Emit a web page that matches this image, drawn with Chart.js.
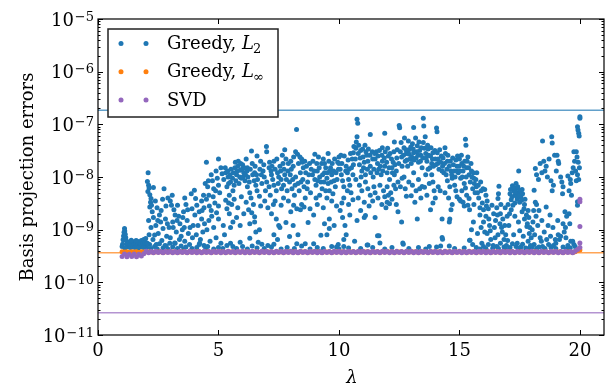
<!DOCTYPE html>
<html>
<head>
<meta charset="utf-8">
<script src="https://cdn.jsdelivr.net/npm/chart.js@4/dist/chart.umd.min.js"></script>
<style>
  html, body { margin: 0; padding: 0; background: #fff; }
  canvas { display: block; }
</style>
</head>
<body>
<canvas id="chart" width="616" height="388"></canvas>
<script>
// Tolerance lines (horizontal)
const l2Tolerance = 1.85e-7;
const linfTolerance = 3.63e-10;
const svdTolerance = 2.64e-11;

// Axis ticks
const xTicks = [0, 5, 10, 15, 20];
const yDecades = [-11, -10, -9, -8, -7, -6, -5];

// Greedy L2 errors, [lambda, error]
const greedyL2 = [
    // 1 - 2
    [1.02,5.3e-10],[1.04,6.4e-10],[1.06,7.6e-10],[1.08,8.9e-10],[1.1,1.05e-9],[1.11,9.4e-10],[1.13,8.2e-10],[1.15,7.1e-10],
    [1.17,6.3e-10],[1.2,5.6e-10],[1.22,4.9e-10],[1.25,5.4e-10],[1.28,4.7e-10],[1.3,5.8e-10],[1.33,5.1e-10],[1.36,4.6e-10],
    [1.4,5.5e-10],[1.43,4.8e-10],[1.46,5.9e-10],[1.5,5.2e-10],[1.53,4.6e-10],[1.56,5.6e-10],[1.6,4.9e-10],[1.63,6e-10],
    [1.66,5.3e-10],[1.7,4.7e-10],[1.73,5.7e-10],[1.76,5.1e-10],[1.8,6.2e-10],[1.83,4.8e-10],[1.86,5.5e-10],[1.9,6.5e-10],
    [1.93,5e-10],[1.96,5.8e-10],[1.98,6.8e-10],[1.0,4.8e-10],[1.12,4.5e-10],[1.38,6.3e-10],[1.58,6.2e-10],[1.68,4.5e-10],[1.88,4.6e-10],
    // 2 - 3
    [2.08,1.2e-8],[2.05,8.2e-9],[2.1,7e-9],[2.12,6.2e-9],[2.07,5.3e-9],[2.15,4.6e-9],[2.2,3.9e-9],[2.18,3.3e-9],[2.3,6.3e-9],
    [2.74,6e-9],[2.15,2.7e-9],[2.25,2.2e-9],[2.3,1.7e-9],[2.1,1.5e-9],[2.2,1.1e-9],[2.12,8e-10],[2.28,6.5e-10],[2.05,5.5e-10],
    [2.45,2.6e-9],[2.55,1.9e-9],[2.6,1.4e-9],[2.7,1.05e-9],[2.5,8.5e-10],[2.65,6.2e-10],[2.35,7.9e-10],[2.4,1.2e-9],
    [2.8,1.6e-9],[2.85,7.5e-10],[2.42,5.2e-10],[2.78,5e-10],
    // 3 - 4
    [2.9,4e-9],[3.0,3.5e-9],[3.05,2.9e-9],[3.15,2.4e-9],[3.2,1.9e-9],[3.1,1.4e-9],[2.95,1.1e-9],[3.25,9e-10],[3.0,7e-10],
    [3.2,5.5e-10],[3.35,1.8e-9],[3.4,1.3e-9],[3.5,1e-9],[3.45,7.5e-10],[3.6,6e-10],[3.7,1.5e-9],[3.75,8.5e-10],[3.8,5.2e-10],
    [3.87,4.8e-9],[3.55,2.2e-9],[3.65,3e-9],[3.3,2.9e-9],[3.9,2.5e-9],[3.95,1.2e-9],[3.6,4e-9],
    // 4 - 5
    [4.0,5.6e-9],[4.05,3.9e-9],[4.1,2.9e-9],[4.2,2.2e-9],[4.3,1.6e-9],[4.15,1.2e-9],[4.35,9e-10],[4.25,6.5e-10],[4.4,5e-10],
    [4.45,7.5e-9],[4.55,6.5e-9],[4.6,4.5e-9],[4.5,3.8e-9],[4.5,1.9e-8],[4.7,1.1e-8],[4.75,8.5e-9],[4.8,6e-9],[4.9,1.3e-8],
    [4.95,9.5e-9],[4.85,3.2e-9],[4.7,2.3e-9],[4.6,1.5e-9],[4.8,1.1e-9],[4.9,7e-10],[4.65,6e-10],[4.3,3.5e-9],[4.4,2.6e-9],
    // 5 - 6
    [5.0,2.2e-8],[5.0,7e-9],[5.05,5e-9],[5.0,2.8e-9],[5.1,1.5e-8],[5.15,1.15e-8],[5.0,1.6e-9],[5.1,5.5e-10],[5.2,1.2e-9],
    [5.3,1.2e-8],[5.4,1e-8],[5.5,8e-9],[5.35,6.5e-9],[5.6,5.5e-9],[5.45,4.5e-9],[5.3,3.6e-9],[5.55,3e-9],[5.35,2.5e-9],
    [5.45,2e-9],[5.6,1.4e-9],[5.5,1.1e-9],[5.5,5.5e-10],[5.6,4.8e-10],[5.7,1.9e-8],[5.8,1.6e-8],[5.9,1.35e-8],[6.0,1.7e-8],
    [6.05,1.2e-8],[5.95,9.5e-9],[5.75,1.1e-8],[5.85,7.5e-9],[5.9,1.2e-9],[5.9,5.8e-10],[5.25,8e-10],[5.8,2.6e-9],[5.65,7e-9],
    // 6 - 7
    [6.1,8.5e-9],[6.37,3.1e-8],[6.2,6.5e-9],[6.3,5e-9],[6.35,4e-9],[6.45,3e-9],[6.25,2.4e-9],[6.55,7e-9],[6.6,5.5e-9],
    [6.7,4.3e-9],[6.3,1.3e-9],[6.3,6.9e-10],[6.65,5.8e-10],[6.4,4.9e-10],[6.5,1.75e-9],[6.7,1e-9],[6.5,1.4e-9],[6.55,9e-10],
    [6.85,1.3e-8],[6.9,1e-8],[6.99,3.8e-8],[7.0,3e-8],[6.2,1.5e-8],[6.4,1.8e-8],[6.5,1.2e-8],[6.75,2e-8],[6.15,2.2e-8],
    [6.6,2.5e-8],[6.8,7.5e-9],
    // 7 - 8
    [7.0,8e-9],[7.1,6.5e-9],[7.2,1.1e-8],[7.25,9e-9],[7.3,7e-9],[7.4,5.5e-9],[7.45,1.2e-8],[7.5,1e-8],[7.15,4.5e-9],
    [7.35,3.5e-9],[7.05,2.6e-9],[7.2,2e-9],[7.4,1.6e-9],[7.6,2.9e-9],[7.55,1.1e-9],[7.3,8e-10],[7.45,6.5e-10],[7.3,5.3e-10],
    [7.75,3.3e-8],[7.8,2.2e-8],[7.9,1.8e-8],[7.6,9e-9],[7.7,7e-9],[7.75,1.1e-8],[7.85,5.5e-9],[7.95,8e-9],[7.8,1.37e-9],
    [7.95,7.4e-10],[7.9,3.5e-9],[7.1,1.5e-8],[7.3,2e-8],[7.55,1.6e-8],[7.65,2.6e-8],[7.05,5e-10],[7.5,1.2e-9],
    // 8 - 9
    [8.0,2e-8],[8.1,1.6e-8],[8.24,8e-8],[8.2,3e-8],[8.28,2.7e-8],[8.45,2.2e-8],[8.48,1.9e-8],[8.05,6e-9],[8.15,4.5e-9],
    [8.2,1e-8],[8.3,7.5e-9],[8.35,5.5e-9],[8.4,1.2e-8],[8.5,9e-9],[8.55,6.5e-9],[8.6,4e-9],[8.45,3e-9],[8.7,8e-9],
    [8.75,1.1e-8],[8.25,2.5e-9],[8.0,2.2e-9],[8.4,2.4e-9],[8.72,1.37e-9],[8.25,5.4e-10],[8.6,5.4e-10],[8.1,1.2e-9],
    [8.3,8e-10],[8.95,1.9e-9],[8.95,5.4e-10],[8.85,1.4e-8],[8.9,1.1e-8],[8.65,1.6e-8],[8.8,2.5e-9],
    // 9 - 10
    [9.0,2.7e-8],[9.15,2.4e-8],[9.35,2.2e-8],[9.4,1.8e-8],[9.0,9e-9],[9.05,7e-9],[9.1,1.3e-8],[9.2,1e-8],[9.25,8e-9],
    [9.3,6e-9],[9.4,1.2e-8],[9.5,9.5e-9],[9.55,7.5e-9],[9.6,5.5e-9],[9.65,1.5e-8],[9.7,1.1e-8],[9.8,8.5e-9],[9.85,6.5e-9],
    [9.2,4.5e-9],[9.5,4e-9],[9.75,4.8e-9],[9.4,1.3e-9],[9.6,1.05e-9],[9.25,7.8e-10],[9.97,5.2e-10],[9.9,4.7e-10],[9.5,8e-10],
    [9.6,1.6e-9],[9.8,1.2e-9],[9.1,3e-9],[9.35,2.6e-9],[9.9,2.8e-9],[9.95,1.9e-8],[9.55,2.8e-8],
    // 10 - 11
    [10.0,2.4e-8],[10.0,1.8e-8],[10.05,1.4e-8],[10.1,1.1e-8],[10.15,8.5e-9],[10.2,6.5e-9],[10.3,1.6e-8],[10.35,1.2e-8],
    [10.4,9e-9],[10.45,7e-9],[10.5,5e-9],[10.55,2.2e-8],[10.6,1.7e-8],[10.2,4e-9],[10.4,3e-9],[10.05,2.3e-9],[10.15,1.7e-9],
    [10.25,1.2e-9],[10.3,8e-10],[10.2,6.5e-10],[10.2,4.8e-10],[10.45,1.9e-9],[10.6,2.9e-8],[10.75,1.25e-7],[10.78,1.05e-7],
    [10.75,5.8e-8],[10.72,4.6e-8],[10.7,3.5e-8],[10.8,2.8e-8],[10.9,3.2e-8],[10.85,1.7e-8],[10.95,1.3e-8],[10.7,9e-9],
    [10.85,7e-9],[10.95,5.5e-9],[10.8,4e-9],[10.75,1.5e-9],[10.65,6e-10],
    // 11 - 12
    [11.0,2.4e-8],[11.05,1.9e-8],[11.15,2.6e-8],[11.2,2e-8],[11.3,1.6e-8],[11.4,2.2e-8],[11.45,1.4e-8],[11.1,1.1e-8],
    [11.3,6.4e-8],[11.1,8e-9],[11.2,6e-9],[11.3,4.5e-9],[11.4,3.5e-9],[11.5,5e-9],[11.05,3.3e-9],[11.05,1.7e-9],[11.5,1.7e-9],
    [11.6,7.7e-10],[11.7,5.6e-10],[11.2,5.1e-10],[11.1,1.85e-9],[11.66,7.7e-10],[11.17,5.1e-10],[11.5,2.2e-8],[11.6,1.8e-8],
    [11.65,1.4e-8],[11.75,1.1e-8],[11.8,2e-8],[11.9,1.6e-8],[11.9,6.8e-8],[11.7,7e-9],[11.85,5.5e-9],[11.9,4.2e-9],
    [11.95,2.6e-9],[11.55,3e-8],[11.8,3.6e-8],
    // 12 - 13
    [12.0,1.2e-8],[12.05,2.5e-8],[12.1,9e-9],[12.2,1.5e-8],[12.25,1.9e-8],[12.3,1.1e-8],[12.4,2.3e-8],[12.45,8e-9],
    [12.0,6.5e-9],[12.15,5e-9],[12.0,3.3e-9],[12.2,3.8e-9],[12.1,3.1e-9],[12.5,9.5e-8],[12.52,8.6e-8],[12.55,3e-8],
    [12.6,2.4e-8],[12.7,3.6e-8],[12.75,2e-8],[12.8,2.8e-8],[12.85,1.6e-8],[12.9,3.3e-8],[12.95,2.2e-8],[12.7,1e-8],
    [12.9,8e-9],[12.8,4.3e-9],[12.65,5.6e-10],[12.67,5.3e-10],[12.3,4.6e-8],[12.35,6e-9],[12.6,1.4e-9],[12.45,2.2e-9],
    // 13 - 14
    [13.0,1.8e-8],[13.05,4.3e-8],[13.1,2.9e-8],[13.1,8.7e-8],[13.2,2.3e-8],[13.25,3.9e-8],[13.3,1.9e-8],[13.35,3.2e-8],
    [13.4,2.6e-8],[13.45,1.5e-8],[13.5,4.5e-8],[13.5,1.3e-7],[13.52,9.3e-8],[13.55,3.5e-8],[13.6,2.8e-8],[13.65,2e-8],
    [13.7,3.4e-8],[13.8,2.5e-8],[13.85,1.8e-8],[13.9,2.9e-8],[13.0,4.4e-9],[13.1,1.2e-8],[13.3,9e-9],[13.45,6.6e-9],
    [13.55,6.4e-9],[13.6,1.1e-8],[13.85,1.1e-8],[13.9,8e-9],[13.95,5.5e-9],[13.8,2.4e-9],[13.9,3.2e-9],[13.2,5.5e-9],
    [13.4,4e-9],[13.7,1.4e-8],[13.25,1.6e-9],[13.75,4.8e-10],
    // 14 - 15
    [14.0,4e-9],[14.05,8.5e-8],[14.07,7.2e-8],[14.0,2.2e-8],[14.1,1.8e-8],[14.15,1.4e-8],[14.25,2.5e-8],[14.3,1.6e-8],
    [14.35,1.2e-8],[14.5,2e-8],[14.4,3.6e-8],[14.42,2.8e-8],[14.28,1.6e-9],[14.58,1.4e-9],[14.28,7.1e-10],[14.58,4.9e-10],
    [14.22,4.9e-10],[14.3,6.6e-10],[14.45,1.1e-8],[14.5,8.5e-9],[14.6,6.5e-9],[14.65,1.3e-8],[14.7,9.5e-9],[14.75,1.7e-8],
    [14.8,7e-9],[14.85,2.1e-8],[14.9,1.6e-8],[14.95,1.2e-8],[14.9,4.2e-9],[14.6,1.6e-9],[14.2,5.5e-9],[14.7,3e-9],
    // 15 - 16
    [15.0,2.2e-8],[15.05,9.5e-9],[15.1,1.8e-8],[15.15,1.3e-8],[15.2,7.5e-9],[15.25,5.2e-8],[15.27,4e-8],[15.3,1.5e-8],
    [15.35,2.4e-8],[15.4,1.1e-8],[15.45,8e-9],[15.5,1.3e-8],[15.55,6e-9],[15.6,9.5e-9],[15.65,5e-9],[15.1,5.5e-9],
    [15.3,4.5e-9],[15.0,3.8e-9],[15.4,3.9e-9],[15.05,3.5e-9],[15.42,2.4e-9],[15.5,1e-9],[15.42,6.3e-10],[15.58,1.4e-9],
    [15.44,6.3e-10],[15.7,6.5e-9],[15.75,5e-9],[15.8,4e-9],[15.9,5.5e-9],[15.95,3.2e-9],[16.0,2.4e-9],[15.85,1.9e-9],
    [16.0,1.4e-9],[15.9,1.1e-9],[15.75,8.5e-10],[16.05,9e-10],[15.93,5.5e-10],[15.2,2.8e-9],
    // 16 - 17
    [16.1,4.5e-9],[16.15,3.5e-9],[16.2,2.5e-9],[16.1,1.8e-9],[16.25,1.2e-9],[16.15,8.5e-10],[16.3,6.5e-10],[16.64,6.7e-9],
    [16.62,4.8e-9],[16.6,3.9e-9],[16.55,2.6e-9],[16.7,2e-9],[16.5,1.5e-9],[16.75,1.1e-9],[16.6,8e-10],[16.85,6.5e-10],
    [16.95,5e-10],[16.45,1.1e-9],[16.8,1.6e-9],[16.4,5e-10],[16.35,2.9e-9],[16.9,2.6e-9],[16.7,5.5e-10],[16.05,5.8e-9],
    // 17 - 18
    [17.2,6.8e-9],[17.25,5.5e-9],[17.3,4.5e-9],[17.35,6e-9],[17.4,3.8e-9],[17.45,5e-9],[17.5,3.3e-9],[17.55,4.2e-9],
    [17.6,5.8e-9],[17.3,3.2e-9],[17.15,3.7e-9],[17.46,1.3e-8],[17.15,2.4e-9],[17.3,1.8e-9],[17.45,1.4e-9],[17.6,2.2e-9],
    [17.7,1.6e-9],[17.8,1.15e-9],[17.5,9.5e-10],[17.65,7.5e-10],[17.85,6e-10],[17.4,5.5e-10],[17.25,8e-10],[17.9,8.5e-10],
    [17.95,5e-10],[17.05,1.2e-9],[17.1,4.8e-9],[17.35,7.5e-9],[17.7,3e-9],[17.85,2.3e-9],[17.0,6.2e-10],
    // 18 - 19
    [18.1,5.6e-9],[18.15,1.45e-8],[18.2,1.1e-8],[18.28,9e-9],[18.2,3e-9],[18.3,2.3e-9],[18.45,4.8e-8],[18.5,2e-8],
    [18.6,1.6e-8],[18.55,1.3e-8],[18.83,5.8e-8],[18.85,4.4e-8],[18.8,8.5e-9],[18.9,7e-9],[18.85,5.5e-9],[18.4,6e-10],
    [18.7,5.2e-10],[18.3,4.7e-10],[18.76,1.9e-9],[18.9,5e-10],[18.05,1.4e-9],[18.15,3.3e-9],[18.6,2.7e-9],[18.95,2.6e-8],
    // 19 - 20
    [19.05,2.6e-8],[19.1,2e-8],[19.12,1.8e-8],[19.2,1e-8],[19.25,8e-9],[19.3,6.5e-9],[19.3,1.3e-9],[19.35,9e-10],
    [19.2,7.5e-10],[19.4,1.1e-9],[19.5,1.05e-8],[19.6,9e-9],[19.55,5.5e-9],[19.65,4.5e-9],[19.75,3e-8],[20.0,1.4e-7],
    [20.0,1.3e-7],[19.9,9e-8],[19.92,7.8e-8],[19.95,6.8e-8],[19.97,6e-8],[19.85,3e-8],[19.88,2.4e-8],[19.93,1.9e-8],
    [19.98,1.5e-8],[19.9,1.1e-8],[19.95,9e-9],[19.9,3.4e-9],[19.85,8.5e-9],[19.0,5.5e-10],[19.5,5e-10],[19.7,6e-10],
    [19.55,2e-9],[19.1,8e-10],[19.9,2.9e-9],[19.45,1.8e-9],[19.8,4.8e-10]
];

// More Greedy L2 points from the dense parts of the cloud
const greedyL2Dense = [
    [2.22,2.9e-9],[2.38,3.5e-9],[2.48,1.5e-9],[2.62,2.3e-9],[2.68,3.8e-9],[2.82,2.8e-9],[2.88,1.3e-9],[2.98,5.5e-10],
    [3.08,4.5e-9],[3.12,1.1e-9],[3.28,1.5e-9],[3.38,6.5e-10],[3.52,1.7e-9],[3.58,1.1e-9],[3.72,2.4e-9],[3.82,1.1e-9],
    [3.92,7e-10],[4.02,1.9e-9],[4.08,8e-10],[4.22,5.5e-10],[4.32,2.3e-9],[4.42,1.3e-9],[4.52,1e-9],[4.62,2.8e-9],
    [4.72,1.8e-9],[4.78,4.2e-9],[4.88,5.5e-9],[4.92,2.1e-9],[4.58,8.5e-9],[4.38,4.5e-9],
    [5.22,9e-9],[5.28,1.5e-8],[5.38,1.3e-8],[5.42,7.5e-9],[5.48,1.1e-8],[5.52,1.4e-8],[5.58,9.5e-9],[5.62,1.2e-8],
    [5.68,1.5e-8],[5.72,8.5e-9],[5.78,1.3e-8],[5.82,2e-8],[5.88,1e-8],[5.92,1.8e-8],[5.98,1.4e-8],[6.02,1e-8],
    [6.08,1.5e-8],[6.12,1.1e-8],[6.18,1.3e-8],[6.22,1e-8],[6.28,8e-9],[6.32,1.4e-8],[6.42,1.1e-8],[6.48,8.5e-9],
    [6.52,1.6e-8],[6.58,1.1e-8],[6.62,9e-9],[6.72,1.4e-8],[6.78,1.1e-8],[6.88,1.7e-8],[6.95,5.5e-9],[5.42,3.2e-9],
    [5.65,3.8e-9],[5.95,4.2e-9],[6.15,3.3e-9],[6.38,2.1e-9],[6.75,2.8e-9],[6.92,3.5e-9],[5.75,1.7e-9],[6.05,2e-9],
    [7.12,1.9e-8],[7.18,1.3e-8],[7.22,1.6e-8],[7.35,1.4e-8],[7.42,2.2e-8],[7.48,7.5e-9],[7.58,1.3e-8],[7.62,6e-9],
    [7.68,1.8e-8],[7.72,1.4e-8],[7.82,9e-9],[7.88,1.3e-8],[7.98,1.1e-8],[8.02,1.4e-8],[8.08,9e-9],[8.12,2.4e-8],
    [8.18,7e-9],[8.32,1.8e-8],[8.38,2.4e-8],[8.42,8e-9],[8.52,1.5e-8],[8.58,2e-8],[8.62,1.2e-8],[8.68,6e-9],
    [8.78,1.8e-8],[8.82,5e-9],[8.92,2e-8],[8.98,1.3e-8],[9.08,1.8e-8],[9.12,8.5e-9],[9.18,1.5e-8],[9.28,1.8e-8],
    [9.32,1.1e-8],[9.38,8e-9],[9.45,1.5e-8],[9.52,1.2e-8],[9.58,2e-8],[9.62,1.3e-8],[9.68,8e-9],[9.72,1.8e-8],
    [9.78,1.3e-8],[9.82,2.2e-8],[9.88,1.2e-8],[9.92,9e-9],[9.98,1.4e-8],[7.28,3e-9],[7.7,4e-9],[8.12,2.9e-9],
    [8.55,2.7e-9],[9.05,4e-9],[9.45,5.5e-9],[9.7,3.5e-9],
    [10.08,2.6e-8],[10.12,1.8e-8],[10.22,2.5e-8],[10.28,1.3e-8],[10.38,2.1e-8],[10.42,1.4e-8],[10.48,2.8e-8],[10.52,1.5e-8],
    [10.58,1.1e-8],[10.62,3.8e-8],[10.68,2.2e-8],[10.82,4e-8],[10.88,2.3e-8],[10.92,1e-8],[10.98,3.4e-8],[11.02,1.5e-8],
    [11.08,4e-8],[11.12,3e-8],[11.18,1.4e-8],[11.22,3.4e-8],[11.28,2.6e-8],[11.32,1.2e-8],[11.38,3e-8],[11.42,1e-8],
    [11.48,2.8e-8],[11.58,1.2e-8],[11.62,2.5e-8],[11.68,3.2e-8],[11.72,1.6e-8],[11.78,2.6e-8],[11.82,1.3e-8],[11.88,2.3e-8],
    [11.92,3e-8],[11.98,1.9e-8],[12.02,3.5e-8],[12.08,1.5e-8],[12.12,2.8e-8],[12.18,2.2e-8],[12.22,1.2e-8],[12.28,3e-8],
    [12.32,1.7e-8],[12.38,1.3e-8],[12.42,3.3e-8],[12.48,1.8e-8],[12.58,4.5e-8],[12.62,1.6e-8],[12.68,2.6e-8],[12.72,5.5e-8],
    [12.78,3.3e-8],[12.82,2.1e-8],[12.88,4.8e-8],[12.92,2.7e-8],[12.98,3.7e-8],[13.02,2.4e-8],[13.08,3.4e-8],[13.12,2.1e-8],
    [13.18,5.5e-8],[13.22,3e-8],[13.28,2.6e-8],[13.32,4.6e-8],[13.38,2e-8],[13.42,3.6e-8],[13.48,2.3e-8],[13.58,5.8e-8],
    [13.62,2.3e-8],[13.68,4e-8],[13.72,2.6e-8],[13.78,1.5e-8],[13.82,3.6e-8],[13.88,2.2e-8],[13.92,1.6e-8],[13.98,3.2e-8],
    [14.02,1.7e-8],[14.08,2.9e-8],[14.12,2.2e-8],[14.18,3.3e-8],[14.22,1.9e-8],[14.28,1.3e-8],[14.32,2.3e-8],[14.38,1.8e-8],
    [14.48,1.4e-8],[14.52,2.6e-8],[14.58,1.6e-8],[14.62,2e-8],[14.68,1.1e-8],[14.72,2.3e-8],[14.78,1.3e-8],[14.82,1e-8],
    [14.88,1.3e-8],[14.92,2.5e-8],[14.98,1.6e-8],[15.02,1.3e-8],[15.08,2.6e-8],[15.12,1e-8],[15.18,1.6e-8],[15.22,2e-8],
    [15.28,1e-8],[15.32,2e-8],[15.38,1.5e-8],[15.48,1.8e-8],[15.52,1e-8],[15.58,1.2e-8],[15.62,7.5e-9],[15.68,9e-9],
    [15.72,1.2e-8],[15.78,7e-9],[15.88,8e-9],[15.98,6e-9],
    [10.12,3.2e-9],[10.35,5.5e-9],[10.58,3.7e-9],[10.9,2.3e-9],[11.25,2.8e-9],[11.45,6.5e-9],[11.62,4e-9],[11.78,3e-9],
    [12.05,4.5e-9],[12.28,7e-9],[12.38,3e-9],[12.55,6.5e-9],[12.62,9.5e-9],[12.75,6e-9],[13.05,7e-9],[13.15,3.3e-9],
    [13.35,6e-9],[13.65,4.5e-9],[13.75,7.5e-9],[14.12,6.5e-9],[14.4,5e-9],[14.55,4e-9],[14.65,2.4e-9],[14.85,5.5e-9],
    [15.15,3.3e-9],[15.25,6.2e-9],[15.35,2.9e-9],[15.6,3e-9],[15.85,2.6e-9],
    [16.12,2.8e-9],[16.22,1.6e-9],[16.28,9.5e-10],[16.42,2e-9],[16.48,7e-10],[16.58,1.9e-9],[16.68,1.3e-9],[16.72,3e-9],
    [16.78,9e-10],[16.88,1.2e-9],[16.92,8e-10],[16.98,1.8e-9],[17.02,3e-9],[17.08,2e-9],[17.12,5.8e-9],[17.18,4.2e-9],
    [17.22,2.9e-9],[17.28,6.2e-9],[17.32,5.2e-9],[17.38,4.2e-9],[17.42,6.5e-9],[17.48,4.3e-9],[17.52,5.6e-9],[17.58,3.6e-9],
    [17.62,4.8e-9],[17.68,2.5e-9],[17.72,3.8e-9],[17.78,1.9e-9],[17.82,1.3e-9],[17.88,1.7e-9],[17.92,1.1e-9],[17.98,7e-10],
    [18.02,1e-9],[18.08,2.3e-9],[18.12,8e-10],[18.18,1.8e-9],[18.25,1.2e-9],[18.35,7e-10],[18.42,1.5e-9],[18.52,9e-10],
    [18.62,6.5e-10],[18.68,1.2e-9],[18.78,7.5e-10],[18.88,1.1e-9],[18.98,6.5e-10],[19.08,1.5e-9],[19.15,6.5e-10],[19.28,4.8e-9],
    [19.38,2.2e-9],[19.42,7e-10],[19.58,1.3e-9],[19.62,7.5e-9],[19.68,1.2e-8],[19.72,1.5e-8],[19.78,2e-8],[19.82,1.3e-8],
    [19.62,6e-10],[18.35,1.8e-8],[18.42,1.2e-8],[18.65,1e-8],[18.72,2.2e-8],[19.02,1.3e-8]
];

// Greedy L2 points sitting just above the floor
const greedyL2Floor = [
    [2.02,4.6e-10],[2.14,5.2e-10],[2.2,4.4e-10],[2.35,4.8e-10],[2.46,4.3e-10],[2.55,5.4e-10],[2.7,4.5e-10],[2.83,4.9e-10],
    [2.9,4.3e-10],[3.1,4.7e-10],[3.18,5.6e-10],[3.3,4.4e-10],[3.45,4.9e-10],[3.56,4.3e-10],[3.65,4.7e-10],[3.9,4.4e-10],
    [4.1,4.6e-10],[4.2,5.2e-10],[4.47,4.4e-10],[4.55,4.8e-10],[4.8,4.3e-10],[5.0,4.6e-10],[5.18,4.4e-10],[5.35,5e-10],
    [5.75,4.4e-10],[6.0,4.8e-10],[6.2,4.3e-10],[6.6,4.5e-10],[6.8,5.3e-10],[6.9,4.4e-10],[7.2,4.7e-10],[7.6,4.3e-10],
    [7.85,4.6e-10],[8.15,4.4e-10],[8.45,4.9e-10],[8.8,4.3e-10],[9.1,4.6e-10],[9.35,4.4e-10],[9.7,4.8e-10],[10.0,4.3e-10],
    [10.4,4.5e-10],[10.9,4.4e-10],[11.4,4.6e-10],[11.9,4.3e-10],[12.2,4.6e-10],[12.9,4.4e-10],[13.3,4.6e-10],[13.6,4.3e-10],
    [14.05,4.7e-10],[14.8,4.4e-10],[15.2,4.5e-10],[15.55,5.2e-10],[15.7,4.6e-10],[15.85,4.3e-10],[16.0,4.8e-10],[16.1,4.4e-10],
    [16.2,5.2e-10],[16.38,4.4e-10],[16.55,4.8e-10],[16.62,4.4e-10],[16.85,4.7e-10],[16.92,4.3e-10],[17.1,4.6e-10],[17.2,5.4e-10],
    [17.35,4.8e-10],[17.45,4.4e-10],[17.55,4.7e-10],[17.62,5.3e-10],[17.75,4.5e-10],[17.88,4.4e-10],[18.0,4.6e-10],[18.1,5.2e-10],
    [18.2,4.4e-10],[18.45,4.8e-10],[18.55,4.4e-10],[18.8,4.6e-10],[19.0,4.4e-10],[19.3,4.7e-10],[19.45,4.3e-10],[19.6,4.5e-10],
    [19.75,5.2e-10]
];

// Lambda grid of the SVD / Greedy L-inf band
const lambdaGrid = [
    1.0,1.1,1.2,1.3,1.4,1.5,1.6,1.7,1.8,1.9,
    2.0,2.1,2.2,2.3,2.4,2.5,2.6,2.7,2.8,2.9,
    3.0,3.1,3.2,3.3,3.4,3.5,3.6,3.7,3.8,3.9,
    4.0,4.1,4.2,4.3,4.4,4.5,4.6,4.7,4.8,4.9,
    5.0,5.1,5.2,5.3,5.4,5.5,5.6,5.7,5.8,5.9,
    6.0,6.1,6.2,6.3,6.4,6.5,6.6,6.7,6.8,6.9,
    7.0,7.1,7.2,7.3,7.4,7.5,7.6,7.7,7.8,7.9,
    8.0,8.1,8.2,8.3,8.4,8.5,8.6,8.7,8.8,8.9,
    9.0,9.1,9.2,9.3,9.4,9.5,9.6,9.7,9.8,9.9,
    10.0,10.1,10.2,10.3,10.4,10.5,10.6,10.7,10.8,10.9,
    11.0,11.1,11.2,11.3,11.4,11.5,11.6,11.7,11.8,11.9,
    12.0,12.1,12.2,12.3,12.4,12.5,12.6,12.7,12.8,12.9,
    13.0,13.1,13.2,13.3,13.4,13.5,13.6,13.7,13.8,13.9,
    14.0,14.1,14.2,14.3,14.4,14.5,14.6,14.7,14.8,14.9,
    15.0,15.1,15.2,15.3,15.4,15.5,15.6,15.7,15.8,15.9,
    16.0,16.1,16.2,16.3,16.4,16.5,16.6,16.7,16.8,16.9,
    17.0,17.1,17.2,17.3,17.4,17.5,17.6,17.7,17.8,17.9,
    18.0,18.1,18.2,18.3,18.4,18.5,18.6,18.7,18.8,18.9,
    19.0,19.1,19.2,19.3,19.4,19.5,19.6,19.7,19.8,19.9,
    20.0
];

// Greedy L-inf errors on the grid
const linfErrors = [
    3.8e-10,3.75e-10,3.8e-10,3.7e-10,3.8e-10,3.75e-10,3.8e-10,3.7e-10,3.8e-10,3.75e-10,
    3.8e-10,3.75e-10,3.8e-10,3.7e-10,3.8e-10,3.75e-10,3.8e-10,3.7e-10,3.8e-10,3.75e-10,
    3.8e-10,3.75e-10,3.8e-10,3.7e-10,3.8e-10,3.75e-10,3.8e-10,3.7e-10,3.8e-10,3.75e-10,
    3.8e-10,3.75e-10,3.8e-10,3.7e-10,3.8e-10,3.75e-10,3.8e-10,3.7e-10,3.8e-10,3.75e-10,
    3.8e-10,3.75e-10,3.8e-10,3.7e-10,3.8e-10,3.75e-10,3.8e-10,3.7e-10,3.8e-10,3.75e-10,
    3.8e-10,3.75e-10,3.8e-10,3.7e-10,3.8e-10,3.75e-10,3.8e-10,3.7e-10,3.8e-10,3.75e-10,
    3.8e-10,3.75e-10,3.8e-10,3.7e-10,3.8e-10,3.75e-10,3.8e-10,3.7e-10,3.8e-10,3.75e-10,
    3.8e-10,3.75e-10,3.8e-10,3.7e-10,3.8e-10,3.75e-10,3.8e-10,3.7e-10,3.8e-10,3.75e-10,
    3.8e-10,3.75e-10,3.8e-10,3.7e-10,3.8e-10,3.75e-10,3.8e-10,3.7e-10,3.8e-10,3.75e-10,
    3.8e-10,3.75e-10,3.8e-10,3.7e-10,3.8e-10,3.75e-10,3.8e-10,3.7e-10,3.8e-10,3.75e-10,
    3.8e-10,3.75e-10,3.8e-10,3.7e-10,3.8e-10,3.75e-10,3.8e-10,3.7e-10,3.8e-10,3.75e-10,
    3.8e-10,3.75e-10,3.8e-10,3.7e-10,3.8e-10,3.75e-10,3.8e-10,3.7e-10,3.8e-10,3.75e-10,
    3.8e-10,3.75e-10,3.8e-10,3.7e-10,3.8e-10,3.75e-10,3.8e-10,3.7e-10,3.8e-10,3.75e-10,
    3.8e-10,3.75e-10,3.8e-10,3.7e-10,3.8e-10,3.75e-10,3.8e-10,3.7e-10,3.8e-10,3.75e-10,
    3.8e-10,3.75e-10,3.8e-10,3.7e-10,3.8e-10,3.75e-10,3.8e-10,3.7e-10,3.8e-10,3.75e-10,
    3.8e-10,3.75e-10,3.8e-10,3.7e-10,3.8e-10,3.75e-10,3.8e-10,3.7e-10,3.8e-10,3.75e-10,
    3.8e-10,3.75e-10,3.8e-10,3.7e-10,3.8e-10,3.75e-10,3.8e-10,3.7e-10,3.8e-10,3.75e-10,
    3.8e-10,3.75e-10,3.8e-10,3.7e-10,3.8e-10,3.75e-10,3.8e-10,3.7e-10,3.8e-10,3.75e-10,
    3.8e-10,3.75e-10,3.8e-10,3.7e-10,3.8e-10,3.75e-10,3.8e-10,3.7e-10,3.8e-10,4.0e-10,
    4.1e-10
];

// SVD errors on the grid
const svdErrors = [
    3.1e-10,3.45e-10,3.05e-10,3.4e-10,3.1e-10,3.45e-10,3.05e-10,3.4e-10,3.15e-10,3.5e-10,
    3.9e-10,3.65e-10,3.85e-10,3.65e-10,3.9e-10,3.7e-10,3.85e-10,3.65e-10,3.9e-10,3.7e-10,
    3.9e-10,3.65e-10,3.85e-10,3.65e-10,3.9e-10,3.7e-10,3.85e-10,3.65e-10,3.9e-10,3.7e-10,
    3.9e-10,3.65e-10,3.85e-10,3.65e-10,3.9e-10,3.7e-10,3.85e-10,3.65e-10,3.9e-10,3.7e-10,
    3.9e-10,3.65e-10,3.85e-10,3.65e-10,3.9e-10,3.7e-10,3.85e-10,3.65e-10,3.9e-10,3.7e-10,
    3.9e-10,3.65e-10,3.85e-10,3.65e-10,3.9e-10,3.7e-10,3.85e-10,3.65e-10,3.9e-10,3.7e-10,
    3.9e-10,3.65e-10,3.85e-10,3.65e-10,3.9e-10,3.7e-10,3.85e-10,3.65e-10,3.9e-10,3.7e-10,
    3.9e-10,3.65e-10,3.85e-10,3.65e-10,3.9e-10,3.7e-10,3.85e-10,3.65e-10,3.9e-10,3.7e-10,
    3.9e-10,3.65e-10,3.85e-10,3.65e-10,3.9e-10,3.7e-10,3.85e-10,3.65e-10,3.9e-10,3.7e-10,
    3.9e-10,3.65e-10,3.85e-10,3.65e-10,3.9e-10,3.7e-10,3.85e-10,3.65e-10,3.9e-10,3.7e-10,
    3.9e-10,3.65e-10,3.85e-10,3.65e-10,3.9e-10,3.7e-10,3.85e-10,3.65e-10,3.9e-10,3.7e-10,
    3.9e-10,3.65e-10,3.85e-10,3.65e-10,3.9e-10,3.7e-10,3.85e-10,3.65e-10,3.9e-10,3.7e-10,
    3.9e-10,3.65e-10,3.85e-10,3.65e-10,3.9e-10,3.7e-10,3.85e-10,3.65e-10,3.9e-10,3.7e-10,
    3.9e-10,3.65e-10,3.85e-10,3.65e-10,3.9e-10,3.7e-10,3.85e-10,3.65e-10,3.9e-10,3.7e-10,
    3.9e-10,3.65e-10,3.85e-10,3.65e-10,3.9e-10,3.7e-10,3.85e-10,3.65e-10,3.9e-10,3.7e-10,
    3.9e-10,3.65e-10,3.85e-10,3.65e-10,3.9e-10,3.7e-10,3.85e-10,3.65e-10,3.9e-10,3.7e-10,
    3.9e-10,3.65e-10,3.85e-10,3.65e-10,3.9e-10,3.7e-10,3.85e-10,3.65e-10,3.9e-10,3.7e-10,
    3.9e-10,3.65e-10,3.85e-10,3.65e-10,3.9e-10,3.7e-10,3.85e-10,3.65e-10,3.9e-10,3.7e-10,
    3.9e-10,3.65e-10,3.85e-10,3.65e-10,3.9e-10,3.7e-10,3.85e-10,3.65e-10,3.9e-10,4.2e-10,
    4.6e-10
];

// SVD outliers at lambda = 20
const svdTail = [[20.0,5.6e-10],[20.0,1.15e-9],[20.0,3.4e-9],[20.0,3.8e-9]];

const BLUE = '#1f77b4';
const ORANGE = '#ff7f0e';
const PURPLE = '#9467bd';
const FONT = '"DejaVu Serif", "Liberation Serif", serif';

const toPoints = pairs => pairs.map(([x, y]) => ({ x, y }));
const gridPoints = values => lambdaGrid.map((x, i) => ({ x, y: values[i] }));
const hline = v => [{ x: 0, y: v }, { x: 21, y: v }];

// Draw "L" with a subscript, like matplotlib mathtext
function drawMathL(ctx, x, y, sub) {
    ctx.font = 'italic 18px ' + FONT;
    ctx.fillText('L', x, y);
    const w = ctx.measureText('L').width;
    ctx.font = '13px ' + FONT;
    ctx.fillText(sub, x + w - 1, y + 4);
}

// Frame, inward ticks, tick labels, titles and legend
const axesDecor = {
    id: 'axesDecor',
    afterDraw(chart) {
        const { ctx, chartArea: a, scales: { x, y } } = chart;
        ctx.save();
        ctx.strokeStyle = '#000';
        ctx.fillStyle = '#000';
        ctx.lineWidth = 1;

        // y ticks (major + minor), both sides
        ctx.beginPath();
        yDecades.forEach(d => {
            const py = Math.round(y.getPixelForValue(Math.pow(10, d))) + 0.5;
            ctx.moveTo(a.left, py); ctx.lineTo(a.left + 5, py);
            ctx.moveTo(a.right, py); ctx.lineTo(a.right - 5, py);
            if (d < -5) {
                for (let k = 2; k <= 9; k++) {
                    const pm = Math.round(y.getPixelForValue(k * Math.pow(10, d))) + 0.5;
                    ctx.moveTo(a.left, pm); ctx.lineTo(a.left + 2.5, pm);
                    ctx.moveTo(a.right, pm); ctx.lineTo(a.right - 2.5, pm);
                }
            }
        });
        // x ticks, bottom and top
        xTicks.forEach(t => {
            const px = Math.round(x.getPixelForValue(t)) + 0.5;
            ctx.moveTo(px, a.bottom); ctx.lineTo(px, a.bottom - 5);
            ctx.moveTo(px, a.top); ctx.lineTo(px, a.top + 5);
        });
        ctx.stroke();

        // frame
        ctx.lineWidth = 1.2;
        ctx.strokeRect(a.left, a.top, a.right - a.left, a.bottom - a.top);

        // y tick labels 10^d
        ctx.textBaseline = 'alphabetic';
        ctx.textAlign = 'left';
        yDecades.forEach(d => {
            const py = y.getPixelForValue(Math.pow(10, d));
            const sup = '\u2212' + String(-d);
            ctx.font = '13px ' + FONT;
            const ws = ctx.measureText(sup).width;
            ctx.font = '18px ' + FONT;
            const wb = ctx.measureText('10').width;
            const right = a.left - 4;
            ctx.fillText('10', right - ws - wb - 1, py + 6.5);
            ctx.font = '13px ' + FONT;
            ctx.fillText(sup, right - ws, py + 1.5);
        });

        // x tick labels
        ctx.font = '18px ' + FONT;
        ctx.textAlign = 'center';
        xTicks.forEach(t => {
            ctx.fillText(String(t), x.getPixelForValue(t), a.bottom + 21);
        });

        // axis titles
        ctx.font = 'italic 18px ' + FONT;
        ctx.fillText('\u03bb', (a.left + a.right) / 2 + 1, 383);
        ctx.save();
        ctx.translate(33, (a.top + a.bottom) / 2);
        ctx.rotate(-Math.PI / 2);
        ctx.font = '18px ' + FONT;
        ctx.fillText('Basis projection errors', 0, 0);
        ctx.restore();

        // legend
        const box = { x: 108, y: 29, w: 170, h: 88 };
        ctx.fillStyle = '#fff';
        ctx.fillRect(box.x, box.y, box.w, box.h);
        ctx.strokeStyle = '#222';
        ctx.lineWidth = 1.5;
        ctx.strokeRect(box.x, box.y, box.w, box.h);
        const rows = [
            { color: BLUE, label: 'Greedy, ', sub: '2' },
            { color: ORANGE, label: 'Greedy, ', sub: '\u221e' },
            { color: PURPLE, label: 'SVD', sub: null }
        ];
        ctx.textAlign = 'left';
        rows.forEach((r, i) => {
            const ry = 43.5 + i * 28.3;
            ctx.fillStyle = r.color;
            [121, 146].forEach(mx => {
                ctx.beginPath();
                ctx.arc(mx, ry, 2.5, 0, Math.PI * 2);
                ctx.fill();
            });
            ctx.fillStyle = '#000';
            ctx.font = '18px ' + FONT;
            ctx.fillText(r.label, 167, ry + 5.5);
            if (r.sub) {
                const w = ctx.measureText(r.label).width;
                drawMathL(ctx, 167 + w, ry + 5.5, r.sub);
            }
        });
        ctx.restore();
    }
};

new Chart(document.getElementById('chart'), {
    type: 'scatter',
    data: {
        datasets: [
            {
                label: 'SVD',
                data: gridPoints(svdErrors).concat(toPoints(svdTail)),
                backgroundColor: PURPLE,
                pointRadius: 2.5,
                borderWidth: 0,
                order: 1
            },
            {
                label: 'Greedy, L_inf',
                data: gridPoints(linfErrors),
                backgroundColor: ORANGE,
                pointRadius: 2.5,
                borderWidth: 0,
                order: 2
            },
            {
                label: 'Greedy, L_2',
                data: toPoints(greedyL2Floor).concat(toPoints(greedyL2), toPoints(greedyL2Dense)),
                backgroundColor: BLUE,
                pointRadius: 2.5,
                borderWidth: 0,
                order: 3
            },
            {
                data: hline(l2Tolerance), showLine: true, pointRadius: 0,
                borderColor: 'rgba(31,119,180,0.7)', borderWidth: 1.5, order: 4
            },
            {
                data: hline(linfTolerance), showLine: true, pointRadius: 0,
                borderColor: 'rgba(255,127,14,0.7)', borderWidth: 1.5, order: 4
            },
            {
                data: hline(svdTolerance), showLine: true, pointRadius: 0,
                borderColor: 'rgba(148,103,189,0.7)', borderWidth: 1.5, order: 4
            }
        ]
    },
    options: {
        responsive: false,
        animation: false,
        devicePixelRatio: 1,
        layout: { padding: { left: 98, right: 12, top: 19, bottom: 53 } },
        plugins: { legend: { display: false }, tooltip: { enabled: false } },
        scales: {
            x: { type: 'linear', min: 0, max: 21, display: false },
            y: { type: 'logarithmic', min: 1e-11, max: 1e-5, display: false }
        }
    },
    plugins: [axesDecor]
});
</script>
</body>
</html>
